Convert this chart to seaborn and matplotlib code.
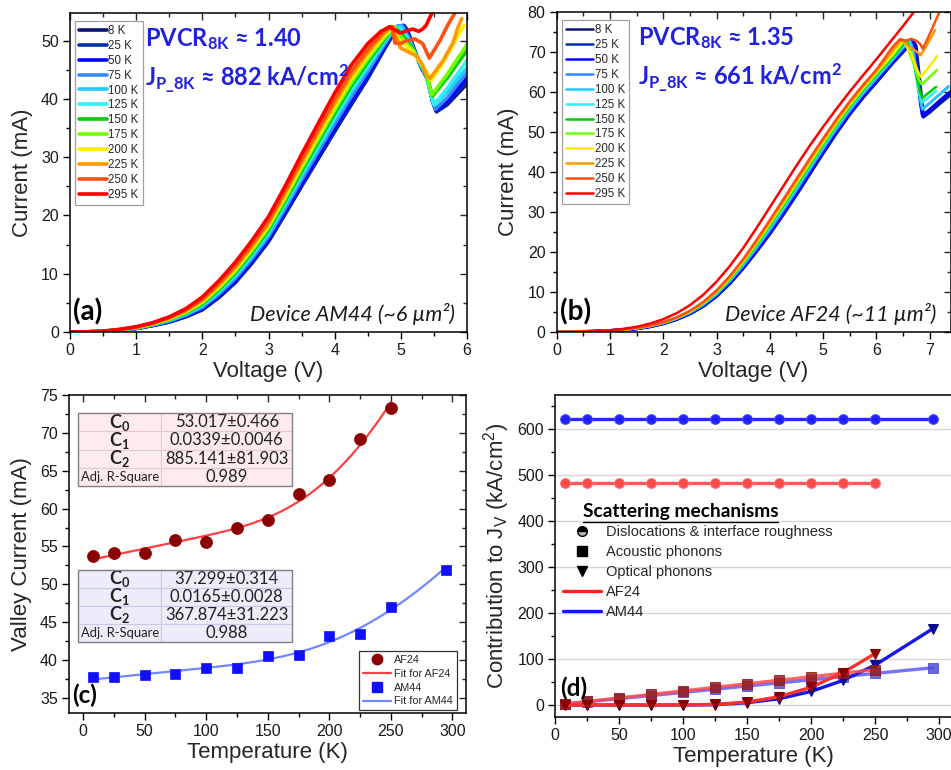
import numpy as np
import pandas as pd
import matplotlib
matplotlib.use('Agg')
import matplotlib.pyplot as plt
import seaborn as sns
from matplotlib.ticker import MultipleLocator, NullFormatter
from matplotlib.lines import Line2D
from matplotlib.patches import Rectangle

sns.set_theme(style='white')
plt.rcParams['font.family'] = ['Liberation Sans', 'DejaVu Sans']
plt.rcParams['mathtext.fontset'] = 'custom'
plt.rcParams['mathtext.rm'] = 'Liberation Sans'
plt.rcParams['mathtext.it'] = 'Liberation Sans:italic'
plt.rcParams['mathtext.bf'] = 'Lato:bold'

# ---------------- data ----------------
temps = [8, 25, 50, 75, 100, 125, 150, 175, 200, 225, 250, 295]
temp_labels = [f'{t} K' for t in temps]
temp_colors = ['#0b1570', '#0030b0', '#0000ff', '#3388ff', '#22c8ff', '#30f0f0',
               '#00cc00', '#70ff00', '#ffee00', '#ff9900', '#ff5010', '#ff0000']

# (a) Device AM44 I-V curves: rising part
a_rise_V = [0, 0.25, 0.5, 0.75, 1.0, 1.25, 1.5, 1.75, 2.0, 2.25, 2.5, 2.75, 3.0, 3.25, 3.5,
            3.75, 4.0, 4.25, 4.5]
a_rise_I = [
    [0, .02, .10, .30, .60, 1.10, 1.70, 2.60, 3.80, 5.90, 8.50, 11.80, 15.50, 20.20, 25.00, 29.70, 34.40, 39.00, 43.50],
    [0, .02, .10, .31, .61, 1.12, 1.74, 2.66, 3.89, 6.02, 8.64, 11.96, 15.67, 20.39, 25.22, 29.94, 34.66, 39.27, 43.74],
    [0, .02, .11, .32, .63, 1.15, 1.79, 2.74, 4.02, 6.19, 8.85, 12.19, 15.93, 20.68, 25.55, 30.31, 35.06, 39.68, 44.10],
    [0, .02, .11, .33, .66, 1.20, 1.88, 2.88, 4.24, 6.48, 9.20, 12.58, 16.36, 21.16, 26.10, 30.92, 35.72, 40.36, 44.70],
    [0, .02, .12, .35, .69, 1.25, 1.97, 3.02, 4.46, 6.77, 9.55, 12.97, 16.79, 21.64, 26.65, 31.53, 36.38, 41.04, 45.30],
    [0, .02, .12, .36, .71, 1.29, 2.04, 3.13, 4.64, 7.00, 9.83, 13.28, 17.13, 22.02, 27.09, 32.02, 36.91, 41.58, 45.78],
    [0, .02, .12, .37, .74, 1.34, 2.12, 3.26, 4.83, 7.26, 10.15, 13.63, 17.52, 22.46, 27.59, 32.57, 37.50, 42.20, 46.32],
    [0, .03, .13, .38, .77, 1.38, 2.20, 3.38, 5.03, 7.52, 10.46, 13.98, 17.91, 22.89, 28.08, 33.12, 38.10, 42.81, 46.86],
    [0, .03, .13, .40, .80, 1.43, 2.29, 3.51, 5.23, 7.79, 10.78, 14.34, 18.30, 23.32, 28.58, 33.67, 38.69, 43.42, 47.40],
    [0, .03, .14, .41, .82, 1.47, 2.37, 3.64, 5.43, 8.05, 11.09, 14.69, 18.68, 23.75, 29.07, 34.21, 39.28, 44.03, 47.94],
    [0, .03, .14, .43, .85, 1.52, 2.46, 3.78, 5.65, 8.34, 11.44, 15.08, 19.11, 24.23, 29.62, 34.82, 39.94, 44.71, 48.54],
    [0, .03, .15, .45, .90, 1.60, 2.60, 4.00, 6.00, 8.80, 12.00, 15.70, 19.80, 25.00, 30.50, 35.80, 41.00, 45.80, 49.50],
]
# (a) peak / NDR / valley part
a_tail_V = [
    [4.75, 4.95, 5.05, 5.10, 5.20, 5.30, 5.40, 5.48, 5.54, 5.70, 5.85, 6.00],
    [4.75, 4.95, 5.04, 5.10, 5.20, 5.30, 5.40, 5.48, 5.54, 5.70, 5.85, 6.00],
    [4.75, 4.94, 5.03, 5.10, 5.20, 5.30, 5.40, 5.48, 5.53, 5.70, 5.85, 6.00],
    [4.75, 4.93, 5.02, 5.10, 5.20, 5.30, 5.40, 5.47, 5.52, 5.70, 5.85, 6.00],
    [4.75, 4.92, 5.00, 5.10, 5.20, 5.30, 5.38, 5.45, 5.51, 5.70, 5.85, 6.00],
    [4.75, 4.91, 5.00, 5.10, 5.20, 5.30, 5.38, 5.45, 5.50, 5.70, 5.85, 6.00],
    [4.75, 4.90, 4.98, 5.08, 5.18, 5.28, 5.37, 5.44, 5.48, 5.70, 5.85, 6.00],
    [4.75, 4.90, 4.98, 5.08, 5.18, 5.28, 5.37, 5.43, 5.47, 5.70, 5.85, 6.00],
    [4.75, 4.89, 4.97, 5.07, 5.17, 5.27, 5.36, 5.42, 5.46, 5.60, 5.75, 5.95],
    [4.75, 4.88, 4.99, 5.14, 5.24, 5.32, 5.39, 5.44, 5.64, 5.79, 5.86, 5.92],
    [4.75, 4.87, 4.91, 4.99, 5.09, 5.21, 5.33, 5.39, 5.43, 5.59, 5.72, 5.84],
    [4.70, 4.83, 4.92, 4.99, 5.09, 5.18, 5.27, 5.33, 5.38, 5.44, 5.50],
]
a_tail_I = [
    [48.5, 52.3, 52.6, 51.8, 48.6, 45.6, 43.6, 39.5, 37.8, 39.0, 40.8, 42.6],
    [48.7, 52.4, 52.6, 51.6, 48.5, 45.6, 43.6, 39.6, 37.8, 39.3, 41.2, 43.1],
    [49.0, 52.4, 52.6, 51.4, 48.4, 45.6, 43.5, 39.8, 38.0, 39.6, 41.7, 43.7],
    [49.3, 52.4, 52.6, 51.0, 48.3, 45.6, 43.5, 40.0, 38.2, 40.2, 42.4, 44.5],
    [49.6, 52.4, 52.5, 50.6, 48.3, 45.8, 44.2, 41.0, 39.0, 41.2, 43.3, 45.3],
    [49.9, 52.4, 52.0, 50.4, 48.2, 45.9, 44.3, 41.0, 39.0, 41.8, 44.2, 46.6],
    [50.2, 52.4, 51.5, 50.2, 48.6, 46.4, 44.5, 42.0, 40.5, 43.6, 46.0, 48.3],
    [50.5, 52.4, 51.0, 49.6, 48.4, 46.6, 44.8, 42.3, 40.7, 44.2, 46.8, 49.3],
    [50.9, 52.4, 50.2, 49.2, 48.2, 46.6, 45.2, 44.0, 43.2, 45.5, 48.5, 52.6],
    [51.3, 52.4, 48.8, 47.9, 47.4, 46.0, 44.0, 43.5, 46.6, 49.7, 52.2, 53.8],
    [51.7, 52.4, 49.6, 49.5, 50.0, 50.3, 49.5, 48.0, 47.0, 50.0, 52.9, 55.2],
    [51.6, 52.4, 51.8, 51.3, 51.7, 52.0, 51.6, 52.0, 52.6, 54.0, 55.5],
]

# (b) Device AF24 I-V curves: rising part
b_rise_V = [0, 0.25, 0.5, 0.75, 1.0, 1.25, 1.5, 1.75, 2.0, 2.25, 2.5, 2.75, 3.0, 3.25, 3.5,
            3.75, 4.0, 4.25, 4.5, 4.75, 5.0, 5.25, 5.5, 5.75, 6.0]
b_rise_I = [
    [0, .01, .05, .13, .28, .52, .88, 1.40, 2.15, 3.20, 4.60, 6.50, 9.00, 12.20, 16.00, 20.20, 24.60, 29.40, 34.40, 39.60, 44.80, 49.80, 54.50, 58.70, 62.50],
    [0, .01, .05, .13, .28, .52, .89, 1.41, 2.17, 3.22, 4.64, 6.55, 9.07, 12.29, 16.11, 20.34, 24.77, 29.59, 34.60, 39.79, 44.98, 49.97, 54.66, 58.86, 62.66],
    [0, .01, .05, .13, .28, .53, .89, 1.42, 2.19, 3.25, 4.68, 6.62, 9.17, 12.42, 16.26, 20.54, 25.01, 29.84, 34.87, 40.06, 45.23, 50.21, 54.88, 59.07, 62.87],
    [0, .01, .05, .14, .29, .54, .91, 1.45, 2.23, 3.31, 4.78, 6.75, 9.35, 12.65, 16.55, 20.90, 25.45, 30.33, 35.38, 40.55, 45.70, 50.65, 55.30, 59.48, 63.28],
    [0, .01, .05, .14, .29, .55, .92, 1.47, 2.26, 3.37, 4.86, 6.87, 9.52, 12.87, 16.81, 21.24, 25.86, 30.77, 35.84, 41.01, 46.13, 51.06, 55.68, 59.85, 63.65],
    [0, .01, .05, .14, .30, .56, .94, 1.49, 2.29, 3.41, 4.93, 6.97, 9.66, 13.05, 17.03, 21.52, 26.20, 31.14, 36.23, 41.39, 46.49, 51.40, 56.00, 60.16, 63.96],
    [0, .01, .06, .14, .30, .57, .95, 1.51, 2.32, 3.46, 5.00, 7.07, 9.80, 13.23, 17.25, 21.80, 26.54, 31.51, 36.62, 41.77, 46.85, 51.74, 56.32, 60.47, 64.27],
    [0, .01, .06, .14, .31, .57, .96, 1.53, 2.35, 3.50, 5.07, 7.17, 9.94, 13.41, 17.47, 22.08, 26.88, 31.88, 37.01, 42.15, 47.21, 52.08, 56.64, 60.78, 64.58],
    [0, .01, .06, .15, .31, .58, .97, 1.55, 2.38, 3.55, 5.14, 7.27, 10.08, 13.59, 17.69, 22.36, 27.22, 32.25, 37.40, 42.53, 47.57, 52.42, 56.96, 61.09, 64.89],
    [0, .01, .06, .15, .32, .59, .99, 1.58, 2.41, 3.60, 5.22, 7.38, 10.23, 13.78, 17.94, 22.66, 27.59, 32.66, 37.83, 42.94, 47.97, 52.79, 57.32, 61.43, 65.23],
    [0, .01, .06, .15, .32, .60, 1.00, 1.60, 2.45, 3.65, 5.30, 7.50, 10.40, 14.00, 18.20, 23.00, 28.00, 33.10, 38.30, 43.40, 48.40, 53.20, 57.70, 61.80, 65.60],
    [0, .02, .08, .20, .42, .78, 1.30, 2.10, 3.20, 4.70, 6.70, 9.30, 12.60, 16.50, 21.00, 26.00, 31.20, 36.40, 41.60, 46.60, 51.30, 55.80, 60.10, 64.20, 68.20],
]
# (b) peak / NDR / valley part
b_tail_V = [
    [6.30, 6.55, 6.69, 6.74, 6.80, 6.85, 6.88, 7.00, 7.20, 7.40],
    [6.30, 6.55, 6.68, 6.73, 6.79, 6.84, 6.87, 7.00, 7.20, 7.40],
    [6.30, 6.55, 6.67, 6.72, 6.78, 6.83, 6.87, 7.00, 7.20, 7.40],
    [6.30, 6.50, 6.64, 6.70, 6.76, 6.82, 6.86, 7.00, 7.20, 7.35],
    [6.30, 6.50, 6.62, 6.68, 6.74, 6.80, 6.86, 7.00, 7.20, 7.35],
    [6.30, 6.50, 6.60, 6.66, 6.72, 6.78, 6.86, 7.00, 7.12],
    [6.30, 6.50, 6.57, 6.63, 6.70, 6.76, 6.82, 6.86, 7.00, 7.12],
    [6.30, 6.53, 6.60, 6.68, 6.75, 6.80, 6.85, 7.00, 7.14],
    [6.30, 6.50, 6.58, 6.65, 6.72, 6.78, 6.83, 7.00, 7.14],
    [6.30, 6.47, 6.55, 6.62, 6.70, 6.78, 6.83, 6.95, 7.10],
    [6.30, 6.44, 6.55, 6.65, 6.75, 6.82, 6.87, 6.95, 7.05, 7.20],
    [6.30, 6.50, 6.72],
]
b_tail_I = [
    [67.2, 70.8, 72.6, 71.5, 64.0, 57.5, 53.8, 55.0, 57.3, 59.5],
    [67.4, 71.0, 72.6, 71.0, 63.5, 57.0, 54.1, 55.4, 57.7, 59.9],
    [67.6, 71.3, 72.7, 71.0, 63.5, 57.2, 54.1, 55.5, 57.9, 60.1],
    [67.9, 70.9, 72.7, 70.5, 64.5, 58.5, 55.8, 57.2, 59.6, 61.4],
    [68.1, 71.2, 72.8, 70.0, 65.0, 59.5, 55.6, 57.3, 59.5, 61.2],
    [68.3, 71.5, 72.8, 70.5, 66.0, 61.0, 57.4, 58.9, 60.3],
    [68.6, 71.8, 72.9, 70.5, 67.5, 63.5, 60.0, 58.5, 60.0, 61.3],
    [69.0, 72.9, 70.5, 67.8, 64.8, 63.0, 61.9, 63.8, 65.5],
    [69.5, 73.0, 71.0, 69.8, 67.2, 65.0, 63.8, 66.5, 69.0],
    [70.3, 73.1, 72.0, 71.2, 70.6, 69.8, 69.2, 71.8, 75.5],
    [71.2, 73.2, 72.8, 73.3, 72.8, 72.0, 70.8, 73.0, 76.0, 80.5],
    [73.2, 76.5, 80.3],
]

# (c) valley current vs temperature
T_af24 = [8, 25, 50, 75, 100, 125, 150, 175, 200, 225, 250]
Iv_af24 = [53.8, 54.1, 54.1, 55.8, 55.6, 57.4, 58.5, 61.9, 63.8, 69.2, 73.3]
T_am44 = [8, 25, 50, 75, 100, 125, 150, 175, 200, 225, 250, 295]
Iv_am44 = [37.8, 37.8, 38.0, 38.2, 39.0, 39.0, 40.5, 40.7, 43.2, 43.5, 47.0, 51.9]
fit_af24 = [53.017, 0.0339, 885.141]   # C0, C1, C2
fit_am44 = [37.299, 0.0165, 367.874]
E_LO = 0.092  # eV, LO phonon energy used by the fit model
table_af24 = [[r'$\mathbf{C_0}$', '53.017±0.466'], [r'$\mathbf{C_1}$', '0.0339±0.0046'],
              [r'$\mathbf{C_2}$', '885.141±81.903'], ['Adj. R-Square', '0.989']]
table_am44 = [[r'$\mathbf{C_0}$', '37.299±0.314'], [r'$\mathbf{C_1}$', '0.0165±0.0028'],
              [r'$\mathbf{C_2}$', '367.874±31.223'], ['Adj. R-Square', '0.988']]

# (d) contributions to valley current density (kA/cm^2)
disl_af24 = [482, 482, 482, 482, 482, 482, 482, 482, 482, 482, 482]
disl_am44 = [621, 621, 621, 621, 621, 621, 621, 621, 621, 621, 621, 621]
acou_af24 = [2.5, 7.7, 15.4, 23.1, 30.8, 38.5, 46.2, 53.9, 61.6, 69.3, 77.0]
acou_am44 = [2.2, 6.9, 13.8, 20.6, 27.5, 34.4, 41.3, 48.1, 55.0, 61.9, 68.8, 81.1]
opt_af24 = [0, 0, 0, 0, 0.2, 1.6, 6.5, 18.0, 38.8, 70.6, 112.0]
opt_am44 = [0, 0, 0, 0, 0.1, 0.7, 5.0, 13.7, 29.6, 53.7, 86.9, 166.0]

# ---------------- figure ----------------
W, H = 951, 770
fig = plt.figure(figsize=(W / 100, H / 100), dpi=100)


def add_ax(l, r, t, b):
    return fig.add_axes([l / W, 1 - b / H, (r - l) / W, (b - t) / H])


ax_a = add_ax(70, 467, 12.7, 332)
ax_b = add_ax(556.7, 950.5, 12, 332)
ax_c = add_ax(69, 466, 395, 713)
ax_d = add_ax(555, 952, 395, 717)

TICK_FS = 11.5
LABEL_FS = 16


def style(ax, xmaj, xmin, ymaj, ymin, mirror=True):
    for s in ax.spines.values():
        s.set_visible(True)
        s.set_color('black')
        s.set_linewidth(1.1)
    ax.xaxis.set_major_locator(MultipleLocator(xmaj))
    ax.xaxis.set_minor_locator(MultipleLocator(xmin))
    ax.yaxis.set_major_locator(MultipleLocator(ymaj))
    ax.yaxis.set_minor_locator(MultipleLocator(ymin))
    ax.tick_params(which='both', direction='out', bottom=True, left=True, top=False, right=False,
                   labelsize=TICK_FS, colors='black', labelcolor='#1a1a1a', width=1.0)
    ax.tick_params(which='major', length=5, pad=3)
    ax.tick_params(which='minor', length=3)
    if mirror:
        sx = ax.secondary_xaxis('top')
        sx.xaxis.set_major_locator(MultipleLocator(xmaj))
        sx.xaxis.set_minor_locator(MultipleLocator(xmin))
        sx.xaxis.set_major_formatter(NullFormatter())
        sx.tick_params(which='both', direction='in', width=1.0)
        sx.tick_params(which='major', length=5)
        sx.tick_params(which='minor', length=3)
        sx.spines['top'].set_visible(False)
        sy = ax.secondary_yaxis('right')
        sy.yaxis.set_major_locator(MultipleLocator(ymaj))
        sy.yaxis.set_minor_locator(MultipleLocator(ymin))
        sy.yaxis.set_major_formatter(NullFormatter())
        sy.tick_params(which='both', direction='in', width=1.0)
        sy.tick_params(which='major', length=5)
        sy.tick_params(which='minor', length=3)
        sy.spines['right'].set_visible(False)


def draw_iv(ax, rise_V, rise_I, tail_V, tail_I, widths):
    for i, t in enumerate(temps):
        V = list(rise_V) + list(tail_V[i])
        I = list(rise_I[i]) + list(tail_I[i])
        df = pd.DataFrame({'V': V, 'I': I})
        sns.lineplot(data=df, x='V', y='I', ax=ax, color=temp_colors[i], lw=widths[i],
                     sort=False, estimator=None, legend=False)


def iv_legend(ax, lw):
    handles = [Line2D([], [], color=c, lw=lw) for c in temp_colors]
    leg = ax.legend(handles, temp_labels, loc='upper left', bbox_to_anchor=(0.005, 0.985),
                    fontsize=8.3, handlelength=2.35, handletextpad=0.15, labelspacing=0.25,
                    borderpad=0.35, frameon=True, fancybox=False, borderaxespad=0.3)
    leg.get_frame().set_edgecolor('#888888')
    leg.get_frame().set_linewidth(0.9)


BLUE_TXT = '#2020e0'
BOLD_FONT = ['Lato', 'DejaVu Sans']
PANEL_FS = 20
PANEL_FS_LOW = 17.5

# ---- panel (a)
draw_iv(ax_a, a_rise_V, a_rise_I, a_tail_V, a_tail_I, [2.6] * 12)
ax_a.set_xlim(0, 6)
ax_a.set_ylim(0, 54.8)
style(ax_a, 1, 0.5, 10, 5)
ax_a.set_xlabel('Voltage (V)', fontsize=LABEL_FS, labelpad=2)
ax_a.set_ylabel('Current (mA)', fontsize=LABEL_FS, labelpad=6)
iv_legend(ax_a, 2.6)
ax_a.text(0.189, 0.895, r'PVCR$_{\mathbf{8K}}$ ≈ 1.40', transform=ax_a.transAxes, fontsize=17,
          fontweight='bold', color=BLUE_TXT, family=BOLD_FONT, va='baseline')
ax_a.text(0.189, 0.77, r'J$_{\mathbf{P\_8K}}$ ≈ 882 kA/cm$^{\mathbf{2}}$', transform=ax_a.transAxes,
          fontsize=17, fontweight='bold', color=BLUE_TXT, family=BOLD_FONT, va='baseline')
ax_a.text(0.97, 0.035, 'Device AM44 (~6 µm²)', transform=ax_a.transAxes, fontsize=15.5,
          style='italic', family=BOLD_FONT, ha='right', va='baseline', color='#1a1a1a')
ax_a.text(0.008, 0.035, '(a)', transform=ax_a.transAxes, fontsize=PANEL_FS, fontweight='bold',
          family=BOLD_FONT, va='baseline', color='black')

# ---- panel (b)
draw_iv(ax_b, b_rise_V, b_rise_I, b_tail_V, b_tail_I,
        [2.6, 2.6, 2.6, 1.8, 1.8, 1.8, 1.8, 1.8, 1.8, 1.8, 1.8, 1.8])
ax_b.set_xlim(0, 7.39)
ax_b.set_ylim(0, 80)
style(ax_b, 1, 0.5, 10, 5)
ax_b.set_xlabel('Voltage (V)', fontsize=LABEL_FS, labelpad=2)
ax_b.set_ylabel('Current (mA)', fontsize=LABEL_FS, labelpad=6)
iv_legend(ax_b, 1.8)
ax_b.text(0.2065, 0.895, r'PVCR$_{\mathbf{8K}}$ ≈ 1.35', transform=ax_b.transAxes, fontsize=17,
          fontweight='bold', color=BLUE_TXT, family=BOLD_FONT, va='baseline')
ax_b.text(0.2065, 0.77, r'J$_{\mathbf{P\_8K}}$ ≈ 661 kA/cm$^{\mathbf{2}}$', transform=ax_b.transAxes,
          fontsize=17, fontweight='bold', color=BLUE_TXT, family=BOLD_FONT, va='baseline')
ax_b.text(0.965, 0.035, 'Device AF24 (~11 µm²)', transform=ax_b.transAxes, fontsize=15.5,
          style='italic', family=BOLD_FONT, ha='right', va='baseline', color='#1a1a1a')
ax_b.text(0.008, 0.035, '(b)', transform=ax_b.transAxes, fontsize=PANEL_FS, fontweight='bold',
          family=BOLD_FONT, va='baseline', color='black')

# ---- panel (c)
kB = 8.617e-5


def fit_curve(T, p):
    T = np.asarray(T, dtype=float)
    return p[0] + p[1] * T + p[2] / (np.exp(E_LO / (kB * T)) - 1.0)


Tf_af = np.linspace(T_af24[0], T_af24[-1], 200)
Tf_am = np.linspace(T_am44[0], T_am44[-1], 200)
sns.lineplot(x=Tf_af, y=fit_curve(Tf_af, fit_af24), ax=ax_c, color='#ff4040', lw=1.6, legend=False)
sns.lineplot(x=Tf_am, y=fit_curve(Tf_am, fit_am44), ax=ax_c, color='#7088ff', lw=1.6, legend=False)
sns.scatterplot(x=T_af24, y=Iv_af24, ax=ax_c, marker='o', s=75, color='#8b0000', edgecolor='#8b0000',
                linewidth=0.5, legend=False, zorder=3)
sns.scatterplot(x=T_am44, y=Iv_am44, ax=ax_c, marker='s', s=55, color='#1010ff', edgecolor='#1010ff',
                linewidth=0.5, legend=False, zorder=3)
ax_c.set_xlim(-11.5, 311)
ax_c.set_ylim(33, 75)
style(ax_c, 50, 25, 5, 2.5)
ax_c.set_xlabel('Temperature (K)', fontsize=LABEL_FS, labelpad=2)
ax_c.set_ylabel('Valley Current (mA)', fontsize=LABEL_FS, labelpad=6)
ax_c.text(0.008, 0.03, '(c)', transform=ax_c.transAxes, fontsize=PANEL_FS_LOW, fontweight='bold',
          family=BOLD_FONT, va='baseline', color='black')


def draw_table(ax, rows, x0, y0, w, h, bg, inner, outer):
    tbl = ax.table(cellText=rows, bbox=[x0, y0, w, h], colWidths=[0.39, 0.61], cellLoc='center')
    tbl.auto_set_font_size(False)
    for (r, c), cell in tbl.get_celld().items():
        cell.set_facecolor(bg)
        cell.set_edgecolor(inner)
        cell.set_linewidth(0.8)
        txt = cell.get_text()
        txt.set_fontfamily(BOLD_FONT)
        txt.set_color('#222222')
        if c == 0 and r == 3:
            txt.set_fontsize(9.4)
        elif c == 0:
            txt.set_fontsize(13)
        else:
            txt.set_fontsize(12)
    ax.add_patch(Rectangle((x0, y0), w, h, transform=ax.transAxes, fill=False,
                           edgecolor=outer, lw=1.0, zorder=10))


draw_table(ax_c, table_af24, 0.0227, 0.7138, 0.539, 0.2296, '#fdeceb', '#e8c8c8', '#8a8080')
draw_table(ax_c, table_am44, 0.0227, 0.2233, 0.539, 0.2264, '#ececfa', '#c8c8e8', '#80808a')

c_handles = [Line2D([], [], marker='o', ls='', color='#8b0000', ms=7.5),
             Line2D([], [], color='#ff4040', lw=1.6),
             Line2D([], [], marker='s', ls='', color='#1010ff', ms=6.5),
             Line2D([], [], color='#7088ff', lw=1.6)]
leg_c = ax_c.legend(c_handles, ['AF24', 'Fit for AF24', 'AM44', 'Fit for AM44'], loc='lower right',
                    bbox_to_anchor=(0.977, 0.009), fontsize=7.8, handlelength=2.6, handletextpad=0.3,
                    labelspacing=0.35, borderpad=0.35, frameon=True, fancybox=False, borderaxespad=0)
leg_c.get_frame().set_edgecolor('black')
leg_c.get_frame().set_linewidth(0.9)

# ---- panel (d)
ax_d.yaxis.grid(True, color='#d6d6d6', lw=1.0)
ax_d.set_axisbelow(True)
sns.lineplot(x=T_am44, y=disl_am44, ax=ax_d, color='#2a2aff', lw=2.4, marker='o', ms=7,
             markerfacecolor='#1f1fff', markeredgecolor='#4a4aff', legend=False)
sns.lineplot(x=T_af24, y=disl_af24, ax=ax_d, color='#ff5a5a', lw=2.4, marker='o', ms=7,
             markerfacecolor='#ff4a4a', markeredgecolor='#ff7070', legend=False)
sns.lineplot(x=T_am44, y=acou_am44, ax=ax_d, color='#5a5aff', lw=2.4, marker='s', ms=6.5,
             markerfacecolor='#5050d8', markeredgecolor='#5050d8', alpha=0.85, legend=False)
sns.lineplot(x=T_am44, y=opt_am44, ax=ax_d, color='#1515ee', lw=2.4, marker='v', ms=7.5,
             markerfacecolor='#0a0a90', markeredgecolor='#0a0a90', legend=False)
sns.lineplot(x=T_af24, y=acou_af24, ax=ax_d, color='#ff4a4a', lw=2.4, marker='s', ms=6.5,
             markerfacecolor='#962020', markeredgecolor='#962020', alpha=0.85, legend=False)
sns.lineplot(x=T_af24, y=opt_af24, ax=ax_d, color='#ff3030', lw=2.4, marker='v', ms=7.5,
             markerfacecolor='#8b0000', markeredgecolor='#8b0000', legend=False)
ax_d.set_xlim(0, 310)
ax_d.set_ylim(-26, 674)
style(ax_d, 50, 25, 100, 50, mirror=False)
ax_d.set_xlabel('Temperature (K)', fontsize=LABEL_FS, labelpad=2)
ax_d.set_ylabel(r'Contribution to J$_\mathrm{V}$ (kA/cm$^2$)', fontsize=LABEL_FS, labelpad=4)
ax_d.text(0.014, 0.066, '(d)', transform=ax_d.transAxes, fontsize=PANEL_FS_LOW, fontweight='bold',
          family=BOLD_FONT, va='baseline', color='black')

ax_d.text(0.0705, 0.621, 'Scattering mechanisms', transform=ax_d.transAxes, fontsize=13.8,
          fontweight='bold', family=BOLD_FONT, va='baseline', color='black')
ax_d.plot([0.0705, 0.561], [0.607, 0.607], transform=ax_d.transAxes, color='black', lw=1.0,
          clip_on=False)
d_handles = [Line2D([], [], marker='o', ls='', color='black', ms=7, fillstyle='top',
                    markerfacecoloralt='#bbbbbb', markeredgecolor='black'),
             Line2D([], [], marker='s', ls='', color='black', ms=6.5),
             Line2D([], [], marker='v', ls='', color='black', ms=7.5),
             Line2D([], [], color='#ff2020', lw=2.4),
             Line2D([], [], color='#1515ee', lw=2.4)]
ax_d.legend(d_handles, ['Dislocations & interface roughness', 'Acoustic phonons', 'Optical phonons',
                        'AF24', 'AM44'], loc='upper left', bbox_to_anchor=(0.02, 0.597),
            fontsize=10.5, handlelength=2.6, handletextpad=0.35, labelspacing=0.42,
            borderpad=0, frameon=False, borderaxespad=0)

fig.savefig('out.png', dpi=100)
